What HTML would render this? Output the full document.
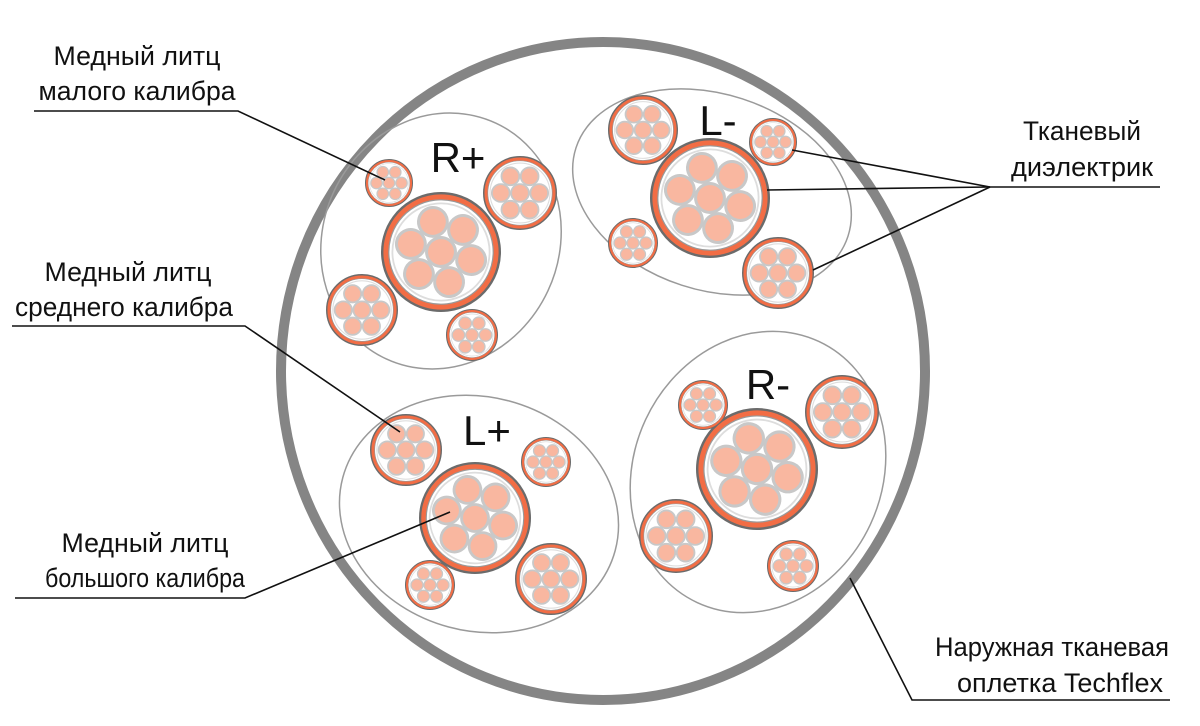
<!DOCTYPE html>
<html><head><meta charset="utf-8"><style>
html,body{margin:0;padding:0;background:#fff;width:1200px;height:726px;overflow:hidden}
svg text{font-family:"Liberation Sans","DejaVu Sans",sans-serif;fill:#111}
</style></head><body>
<svg width="1200" height="726" viewBox="0 0 1200 726" xmlns="http://www.w3.org/2000/svg">
<defs>
<g id="b">
<circle r="98" fill="#f26d45" stroke="#6b6b6b" stroke-width="4"/>
<circle r="87" fill="#fff" stroke="#999" stroke-width="2"/>
<circle r="81" fill="none" stroke="#ddd" stroke-width="3"/>
<g fill="#f9b7a0" stroke="#c8c8c8" stroke-width="5">
<circle cx="0" cy="0" r="24"/>
<circle cx="52" cy="0" r="24"/>
<circle cx="26" cy="45" r="24"/>
<circle cx="-26" cy="45" r="24"/>
<circle cx="-52" cy="0" r="24"/>
<circle cx="-26" cy="-45" r="24"/>
<circle cx="26" cy="-45" r="24"/>
</g>
</g>
</defs>
<ellipse cx="603" cy="371" rx="322" ry="329" fill="none" stroke="#858585" stroke-width="10"/>

<!-- R+ -->
<ellipse cx="441" cy="241" rx="118" ry="130" transform="rotate(25 441 241)" fill="none" stroke="#9a9a9a" stroke-width="1.5"/>
<use href="#b" transform="translate(441,252) scale(0.6) rotate(15)"/>
<use href="#b" transform="translate(389,183) scale(0.24)"/>
<use href="#b" transform="translate(520,193) scale(0.37)"/>
<use href="#b" transform="translate(362,310) scale(0.36)"/>
<use href="#b" transform="translate(472,335) scale(0.26)"/>
<text x="458" y="172" font-size="42" text-anchor="middle">R+</text>

<!-- L- -->
<ellipse cx="712" cy="192" rx="143" ry="98" transform="rotate(18 712 192)" fill="none" stroke="#9a9a9a" stroke-width="1.5"/>
<use href="#b" transform="translate(710,198) scale(0.6) rotate(15)"/>
<use href="#b" transform="translate(643,130) scale(0.35)"/>
<use href="#b" transform="translate(773,142) scale(0.24)"/>
<use href="#b" transform="translate(633,243) scale(0.25)"/>
<use href="#b" transform="translate(778,273) scale(0.36)"/>
<text x="718" y="135" font-size="42" text-anchor="middle">L-</text>

<!-- L+ -->
<ellipse cx="479" cy="514" rx="141" ry="117" transform="rotate(15 479 514)" fill="none" stroke="#9a9a9a" stroke-width="1.5"/>
<use href="#b" transform="translate(475,518) scale(0.56) rotate(15)"/>
<use href="#b" transform="translate(406,450) scale(0.36)"/>
<use href="#b" transform="translate(546,462) scale(0.25)"/>
<use href="#b" transform="translate(430,585) scale(0.25)"/>
<use href="#b" transform="translate(551,579) scale(0.36)"/>
<text x="487" y="445" font-size="42" text-anchor="middle">L+</text>

<!-- R- -->
<ellipse cx="758" cy="472" rx="124" ry="144" transform="rotate(25 758 472)" fill="none" stroke="#9a9a9a" stroke-width="1.5"/>
<use href="#b" transform="translate(757,469) scale(0.61) rotate(15)"/>
<use href="#b" transform="translate(703,405) scale(0.25)"/>
<use href="#b" transform="translate(842,412) scale(0.37)"/>
<use href="#b" transform="translate(676,536) scale(0.37)"/>
<use href="#b" transform="translate(793,566) scale(0.26)"/>
<text x="768" y="399" font-size="42" text-anchor="middle">R-</text>

<!-- leaders -->
<g stroke="#111" stroke-width="1.6" fill="none">
<polyline points="34,111 238,111 385,180"/>
<polyline points="12,326 245,326 400,432"/>
<polyline points="15,598 245,598 450,512"/>
<polyline points="1160,187 990,187"/>
<line x1="990" y1="187" x2="792" y2="150"/>
<line x1="990" y1="187" x2="767" y2="190"/>
<line x1="990" y1="187" x2="813" y2="270"/>
<polyline points="1170,700 912,700 850,578"/>
</g>

<g font-size="27" text-anchor="middle">
<text x="137" y="65" textLength="167" lengthAdjust="spacingAndGlyphs">Медный литц</text>
<text x="137" y="100" textLength="197" lengthAdjust="spacingAndGlyphs">малого калибра</text>
<text x="128" y="281" textLength="167" lengthAdjust="spacingAndGlyphs">Медный литц</text>
<text x="124" y="316" textLength="218" lengthAdjust="spacingAndGlyphs">среднего калибра</text>
<text x="145" y="552" textLength="167" lengthAdjust="spacingAndGlyphs">Медный литц</text>
<text x="145" y="587" textLength="200" lengthAdjust="spacingAndGlyphs">большого калибра</text>
<text x="1082" y="140" textLength="118" lengthAdjust="spacingAndGlyphs">Тканевый</text>
<text x="1082" y="176" textLength="142" lengthAdjust="spacingAndGlyphs">диэлектрик</text>
<text x="1052" y="656" textLength="234" lengthAdjust="spacingAndGlyphs">Наружная тканевая</text>
<text x="1060" y="692" textLength="206" lengthAdjust="spacingAndGlyphs">оплетка Techflex</text>
</g>
</svg>
</body></html>
